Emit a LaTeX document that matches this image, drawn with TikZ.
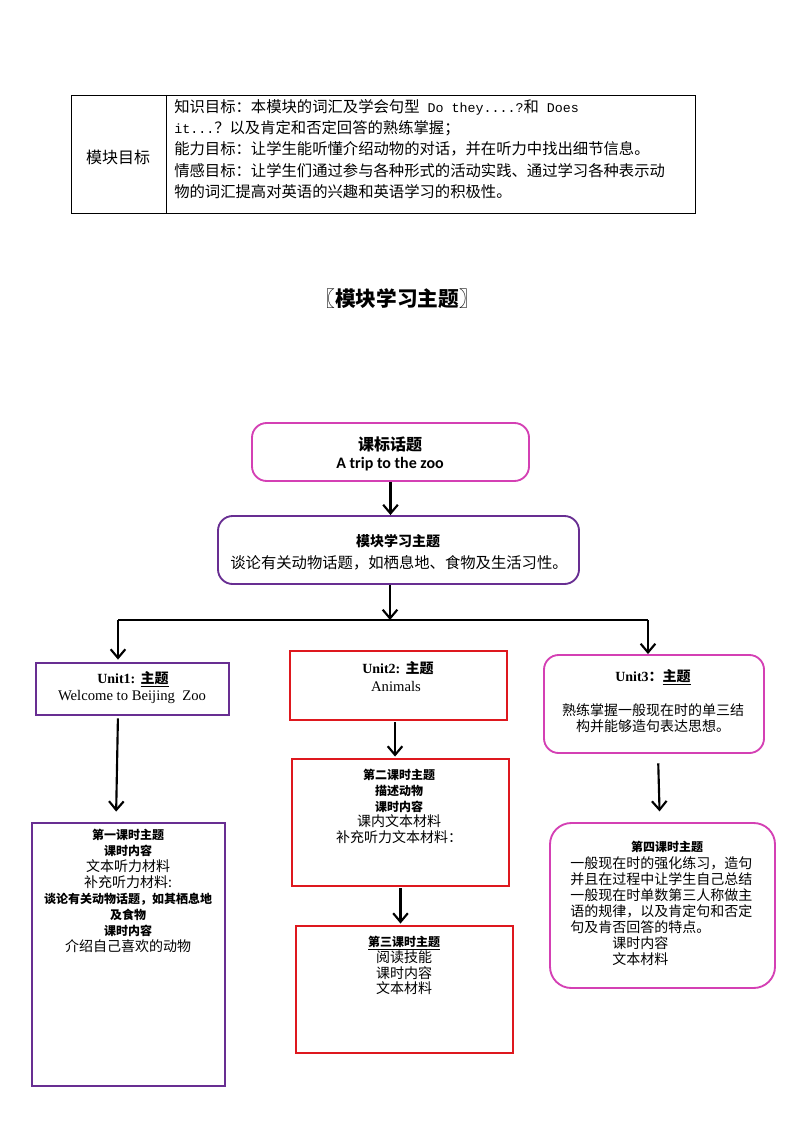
\documentclass[tikz,border=0pt]{standalone}
\usepackage{fontspec}
\setmainfont{Noto Sans CJK SC}
\setmonofont{Liberation Mono}
\newfontfamily\lserif{Liberation Serif}
\newfontfamily\lsans{Carlito}
\usetikzlibrary{arrows.meta,fit}
\definecolor{pinkc}{RGB}{212,64,180}
\definecolor{purpc}{RGB}{104,46,146}
\definecolor{redc}{RGB}{222,24,30}
\newcommand\fsz[2]{\fontsize{#1}{#2}\selectfont}
\begin{document}
\begin{tikzpicture}[
  x=0.75pt,y=-0.75pt,
  arr/.style={line width=1.6pt,-{Straight Barb[length=6.5pt,width=11pt,line width=1.6pt]}},
  conn/.style={line width=1.6pt},
  tablebox/.style={draw=black,line width=0.7pt,inner sep=0pt},
  pinkround/.style={draw=pinkc,line width=1.4pt,rounded corners=11pt,inner sep=0pt},
  purpround/.style={draw=purpc,line width=1.4pt,rounded corners=11pt,inner sep=0pt},
  purpbox/.style={draw=purpc,line width=1.1pt,inner sep=0pt},
  redbox/.style={draw=redc,line width=1.7pt,inner sep=0pt},
  txt/.style={inner sep=0pt,align=center},
]
\useasboundingbox (0,0) rectangle (794,1123);

% ---------- table ----------
\node[tablebox,fit={(71,95)(695,213)}] (tab) {};
\coordinate (tdiv) at (166,95);
\draw[line width=0.7pt] (tdiv) -- (tdiv |- tab.south);
\node[txt,font=\fsz{12}{14}] (tabhead) at (118,157) {模块目标};
\node[inner sep=0pt,anchor=north west,align=left,font=\fsz{11.5}{16}] (tabtxt) at (174,99)
{知识目标：本模块的词汇及学会句型{\ttfamily\fsz{10}{16} Do they....?}和{\ttfamily\fsz{10}{16} Does}\\
{\ttfamily\fsz{10}{16}it...}？以及肯定和否定回答的熟练掌握；\\
能力目标：让学生能听懂介绍动物的对话，并在听力中找出细节信息。\\
情感目标：让学生们通过参与各种形式的活动实践、通过学习各种表示动\\
物的词汇提高对英语的兴趣和英语学习的积极性。};

% ---------- title ----------
\node[txt,font=\fsz{15.5}{18}\bfseries] (title) at (397,299) {〖模块学习主题〗};

% ---------- top boxes ----------
\node[pinkround,fit={(252,423)(529,481)}] (kb) {};
\node[txt,font=\fsz{12}{14}\bfseries] (kbt1) at (390,444) {课标话题};
\node[txt,font=\lsans\bfseries\fsz{12}{14}] (kbt2) at (390,464) {A trip to the zoo};

\node[purpround,fit={(218,516)(579,584)}] (mk) {};
\node[txt,font=\fsz{10.5}{12}\bfseries] (mkt1) at (398,541) {模块学习主题};
\node[txt,font=\fsz{11.5}{13}] (mkt2) at (399,563) {谈论有关动物话题，如栖息地、食物及生活习性。};

% ---------- units ----------
\node[purpbox,fit={(36,663)(229,715)}] (u1) {};
\node[txt,font=\fsz{10.5}{12}] (u1t1) at (133,679) {{\lserif\bfseries Unit1:}\hspace{4pt}{\bfseries\underline{主题}}};
\node[txt,font=\lserif\fsz{11}{13}] (u1t2) at (132,697) {Welcome to Beijing\ \ Zoo};

\node[redbox,fit={(290,651)(507,720)}] (u2) {};
\node[txt,font=\fsz{10.5}{12}] (u2t1) at (398,668) {{\lserif\bfseries Unit2:}\hspace{4pt}{\bfseries 主题}};
\node[txt,font=\lserif\fsz{11}{13}] (u2t2) at (396,686) {Animals};

\node[pinkround,fit={(544,655)(764,753)}] (u3) {};
\node[txt,font=\fsz{10.5}{12}] (u3t1) at (653,677) {{\lserif\bfseries Unit3}{\bfseries ：\underline{主题}}};
\node[txt,font=\fsz{10.5}{11.6}] (u3t2) at (653,718) {熟练掌握一般现在时的单三结\\构并能够造句表达思想。};

% ---------- lessons ----------
\node[purpbox,fit={(32,823)(225,1086)}] (l1) {};
\node[txt,anchor=north,font=\fsz{10.5}{12}] (l1t) at (128,829)
{{\bfseries\fsz{9}{12}第一课时主题}\\
{\bfseries\fsz{9}{12}课时内容}\\
文本听力材料\\
补充听力材料:\\
{\bfseries\fsz{9}{12}谈论有关动物话题，如其栖息地}\\
{\bfseries\fsz{9}{12}及食物}\\
{\bfseries\fsz{9}{12}课时内容}\\
介绍自己喜欢的动物};

\node[redbox,fit={(292,759)(509,886)}] (l2) {};
\node[txt,anchor=north,font=\fsz{10.5}{11.8}] (l2t) at (399,769)
{{\bfseries\fsz{9}{11.8}第二课时主题}\\
{\bfseries\fsz{9}{11.8}描述动物}\\
{\bfseries\fsz{9}{11.8}课时内容}\\
课内文本材料\\
补充听力文本材料：};

\node[redbox,fit={(296,926)(513,1053)}] (l3) {};
\node[txt,anchor=north,font=\fsz{10.5}{11.8}] (l3t) at (404,936)
{{\bfseries\fsz{9}{11.8}\underline{第三课时主题}}\\
阅读技能\\
课时内容\\
文本材料};

\node[pinkround,rounded corners=16pt,fit={(550,823)(775,988)}] (l4) {};
\node[txt,font=\fsz{9}{12}\bfseries] (l4t1) at (667,847) {第四课时主题};
\node[inner sep=0pt,anchor=north west,align=left,font=\fsz{10.5}{12}] (l4t2) at (570,856)
{一般现在时的强化练习，造句\\
并且在过程中让学生自己总结\\
一般现在时单数第三人称做主\\
语的规律，以及肯定句和否定\\
句及肯否回答的特点。\\
\hspace*{31.5pt}课时内容\\
\hspace*{31.5pt}文本材料};

% ---------- connectors ----------
\coordinate (jn) at (390,620);
\coordinate (jl) at (118,620);
\coordinate (jr) at (648,620);
\draw[arr] (kb.south) -- (kb.south |- mk.north);
\draw[arr] (mk.south -| jn) -- (jn);
\draw[conn] (jl) -- (jr);
\draw[arr,shorten >=2pt] (jl) -- (jl |- u1.north);
\draw[arr] (jr) -- (jr |- u3.north);
\draw[arr,shorten <=2pt,shorten >=8pt] ([xshift=-10.9pt]u1.south) -- ([xshift=-9.4pt]l1.north);
\draw[arr,shorten <=1pt,shorten >=1pt] ([xshift=-2.6pt]u2.south) -- ([xshift=-2.6pt]u2.south |- l2.north);
\draw[arr,shorten <=1pt,shorten >=1pt] (l2.south) -- (l2.south |- l3.north);
\draw[arr,shorten <=7pt,shorten >=8pt] ([xshift=3pt]u3.south) -- ([xshift=-2pt]l4.north);
\end{tikzpicture}
\end{document}
